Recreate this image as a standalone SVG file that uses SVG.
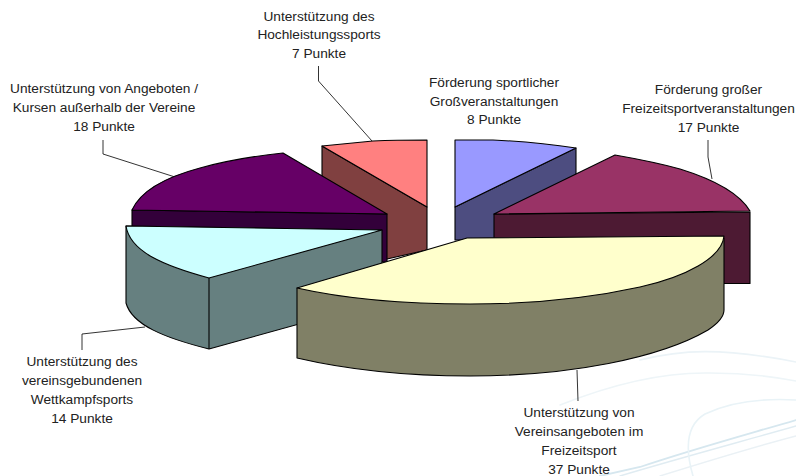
<svg xmlns="http://www.w3.org/2000/svg" width="796" height="476" viewBox="0 0 796 476">
<style>
.s{stroke:#000;stroke-width:1.1;stroke-linejoin:round}
.l{fill:none;stroke:#000;stroke-width:.8}
.b{fill:none;stroke-linecap:round}
text{font-family:"Liberation Sans",Arial,sans-serif;font-size:13.7px;fill:#222;text-anchor:middle}
</style>
<rect width="796" height="476" fill="#fff"/>
<g id="background">
<path class="b" d="M600 476L640 467C690 450 745 435 796 420" stroke="#d6e7ef" stroke-width="1.8"/>
<path class="b" d="M620 476C680 458 740 442 796 426" stroke="#e0ecf2" stroke-width="1.4"/>
<path class="b" d="M660 476C705 462 750 448 796 436" stroke="#eaf1f5" stroke-width="1.4"/>
<path class="b" d="M796 400C760 398 730 402 705 414C688 424 684 445 693 476" stroke="#e9f3f7" stroke-width="1.6"/>
<path class="b" d="M560 405C610 385 660 372 710 373C745 373 775 377 796 381" stroke="#eef5f8" stroke-width="1.5"/>
<path class="b" d="M640 360C680 350 720 347 796 362" stroke="#ebf3f7" stroke-width="1.6"/>
</g>
<g id="connectors">
<path class="l" d="M318.500 66V81L372 141"/>
<path class="l" d="M103 140V154L175 177"/>
<path class="l" d="M708 140V157L712 179"/>
<path class="l" d="M577 370L578 401"/>
<path class="l" d="M82 350V334L145 327"/>
</g>
<g id="node-hochleistung">
<path class="s" fill="#804040" d="M322 146L427 207V250L387 259 322 250Z"/>
<path class="s" fill="#ff8080" d="M322 146L373 141Q395 140 427 140V207Z"/>
<text x="319" y="20.500">Unterstützung des</text><text x="319" y="39">Hochleistungssports</text><text x="319" y="58">7 Punkte</text>
</g>
<g id="node-grossveranstaltungen">
<path class="s" fill="#4d4d80" d="M576 148L455 207V240H500L576 175Z"/>
<path class="s" fill="#9999ff" d="M455 140H493Q537 142 576 148L455 207Z"/>
<text x="494" y="87">Förderung sportlicher</text><text x="494" y="105.500">Großveranstaltungen</text><text x="494" y="124">8 Punkte</text>
</g>
<g id="node-freizeitveranstaltungen">
<path class="s" fill="#4d1a33" d="M494 214L750 212V283.500H600L494 240Z"/>
<path class="s" fill="#993366" d="M494 214L615 155Q655 162 680 169Q735 186 750 211Z"/>
<text x="708.500" y="94">Förderung großer</text><text x="708.500" y="113">Freizeitsportveranstaltungen</text><text x="708.500" y="132">17 Punkte</text>
</g>
<g id="node-angebote">
<path class="s" fill="#33003a" d="M132 210L387 214V262H382L300 240 132 227Z"/>
<path class="s" fill="#660066" d="M132 210C142 188 170 176 200 168C225 161 255 156 283 153L387 214Z"/>
<text x="104" y="93">Unterstützung von Angeboten /</text><text x="104" y="112">Kursen außerhalb der Vereine</text><text x="104" y="130.500">18 Punkte</text>
</g>
<g id="node-wettkampf">
<path class="s" fill="#668080" d="M126 226V303C132 325 165 338 209 349L382 301V230Z"/>
<path class="s" fill="none" d="M209 278V349"/>
<path class="s" fill="#ccffff" d="M126 226L382 230 209 278C165 266 130 252 126 226Z"/>
<text x="82" y="366">Unterstützung des</text><text x="82" y="385">vereinsgebundenen</text><text x="82" y="404">Wettkampfsports</text><text x="82" y="422.500">14 Punkte</text>
</g>
<g id="node-vereinsangebote">
<path class="s" fill="#808066" d="M297 288V358C340 368 400 376 470 376C570 376 660 358 708 330C720 322 724 315 724 310V238L297 288Z"/>
<path class="s" fill="#ffffcc" d="M297 288L467 238 724 236C722 258 685 277 640 287C590 298 530 304 470 304C410 304 350 300 297 288Z"/>
<text x="579" y="417">Unterstützung von</text><text x="579" y="436">Vereinsangeboten im</text><text x="579" y="455">Freizeitsport</text><text x="579" y="474">37 Punkte</text>
</g>
</svg>
